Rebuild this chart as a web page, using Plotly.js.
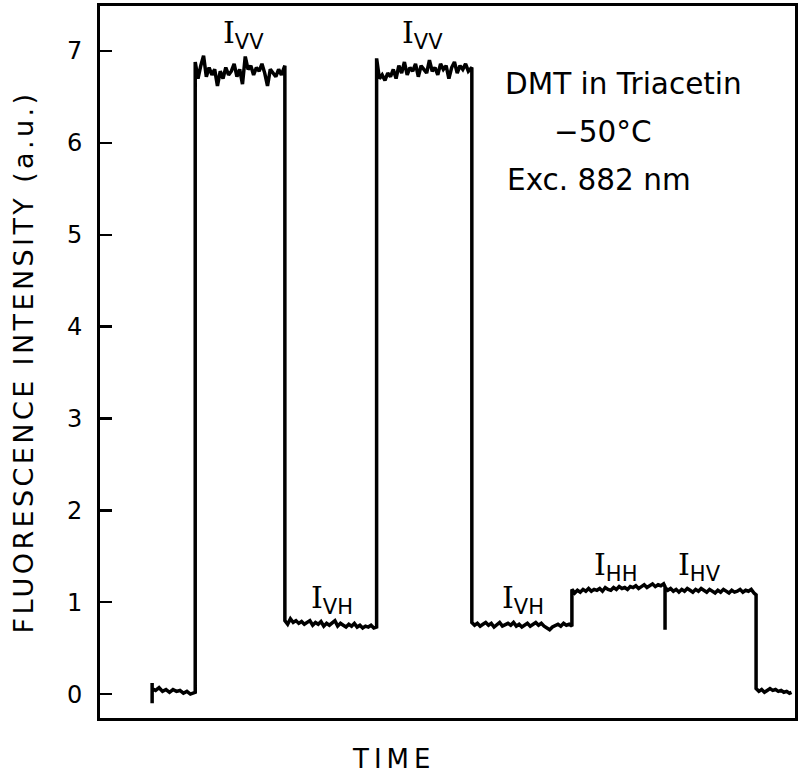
<!DOCTYPE html>
<html>
<head>
<meta charset="utf-8">
<script src="https://cdn.plot.ly/plotly-3.0.1.min.js"></script>
<style>html,body{margin:0;padding:0;background:#fff;}#chart{width:800px;height:776px;}</style>
</head>
<body>
<div id="chart"></div>
<script>
// ---- data (time in arbitrary units, intensity in a.u.) ----
const base1Time = [7.5, 7.5, 7.5, 8.0, 8.5, 9.0, 9.5, 10.0, 10.5, 11.0, 11.5, 12.0, 12.5, 13.0, 13.5, 13.7];
const base1Int  = [-0.10, 0.12, 0.06, 0.04, 0.07, 0.03, 0.05, 0.02, 0.05, 0.03, 0.04, 0.01, 0.03, 0.00, 0.02, 0.02];

const ivv1Time = [13.7, 14.1, 14.5, 14.9, 15.3, 15.7, 16.1, 16.5, 16.9, 17.3, 17.7, 18.1, 18.5, 18.9, 19.3, 19.7, 20.1, 20.5, 20.9, 21.3, 21.7, 22.1, 22.5, 22.9, 23.3, 23.7, 24.1, 24.5, 24.9, 25.3, 25.7, 26.1, 26.6];
const ivv1Int  = [6.88, 6.70, 6.84, 6.95, 6.72, 6.82, 6.74, 6.80, 6.62, 6.78, 6.70, 6.82, 6.74, 6.78, 6.86, 6.72, 6.80, 6.64, 6.94, 6.80, 6.84, 6.74, 6.82, 6.78, 6.86, 6.76, 6.62, 6.80, 6.76, 6.72, 6.80, 6.74, 6.84];

const ivh1Time = [26.6, 27.0, 27.4, 27.8, 28.2, 28.6, 29.0, 29.4, 29.8, 30.2, 30.6, 31.0, 31.4, 31.8, 32.2, 32.6, 33.0, 33.4, 33.8, 34.2, 34.6, 35.0, 35.4, 35.8, 36.2, 36.6, 37.0, 37.4, 37.8, 38.2, 38.6, 39.0, 39.4, 39.8];
const ivh1Int  = [0.80, 0.76, 0.82, 0.78, 0.80, 0.77, 0.79, 0.76, 0.78, 0.80, 0.75, 0.78, 0.76, 0.79, 0.74, 0.77, 0.75, 0.78, 0.80, 0.74, 0.77, 0.75, 0.73, 0.76, 0.74, 0.77, 0.73, 0.75, 0.72, 0.74, 0.73, 0.75, 0.72, 0.73];

const ivv2Time = [39.8, 40.2, 40.6, 41.0, 41.4, 41.8, 42.2, 42.6, 43.0, 43.4, 43.8, 44.2, 44.6, 45.0, 45.4, 45.8, 46.2, 46.6, 47.0, 47.4, 47.8, 48.2, 48.6, 49.0, 49.4, 49.8, 50.2, 50.6, 51.0, 51.4, 51.8, 52.2, 52.6, 53.0, 53.4, 53.5];
const ivv2Int  = [6.92, 6.70, 6.74, 6.68, 6.76, 6.72, 6.80, 6.70, 6.84, 6.76, 6.88, 6.74, 6.82, 6.78, 6.86, 6.72, 6.84, 6.80, 6.76, 6.90, 6.78, 6.82, 6.74, 6.86, 6.80, 6.84, 6.70, 6.82, 6.88, 6.76, 6.84, 6.80, 6.86, 6.78, 6.82, 6.82];

const ivh2Time = [53.5, 53.9, 54.3, 54.7, 55.1, 55.5, 55.9, 56.3, 56.7, 57.1, 57.5, 57.9, 58.3, 58.7, 59.1, 59.5, 59.9, 60.3, 60.7, 61.1, 61.5, 61.9, 62.3, 62.7, 63.1, 63.5, 63.9, 64.3, 64.7, 65.1, 65.5, 65.9, 66.3, 66.7, 67.1, 67.5, 67.9];
const ivh2Int  = [0.78, 0.75, 0.77, 0.74, 0.76, 0.78, 0.75, 0.77, 0.73, 0.76, 0.78, 0.74, 0.76, 0.77, 0.75, 0.78, 0.74, 0.76, 0.73, 0.75, 0.77, 0.74, 0.76, 0.78, 0.75, 0.77, 0.74, 0.72, 0.70, 0.73, 0.75, 0.76, 0.74, 0.77, 0.75, 0.76, 0.74];

const ihhTime = [67.9, 68.3, 68.7, 69.1, 69.5, 69.9, 70.3, 70.7, 71.1, 71.5, 71.9, 72.3, 72.7, 73.1, 73.5, 73.9, 74.3, 74.7, 75.1, 75.5, 75.9, 76.3, 76.7, 77.1, 77.5, 77.9, 78.3, 78.7, 79.1, 79.5, 79.9, 80.3, 80.7, 81.1, 81.3];
const ihhInt  = [1.14, 1.10, 1.13, 1.11, 1.14, 1.12, 1.15, 1.12, 1.14, 1.13, 1.15, 1.12, 1.16, 1.14, 1.13, 1.16, 1.14, 1.17, 1.15, 1.16, 1.14, 1.17, 1.16, 1.18, 1.15, 1.17, 1.19, 1.16, 1.18, 1.20, 1.17, 1.19, 1.18, 1.20, 1.17];

const ihvTime = [81.3, 81.3, 81.7, 82.1, 82.5, 82.9, 83.3, 83.7, 84.1, 84.5, 84.9, 85.3, 85.7, 86.1, 86.5, 86.9, 87.3, 87.7, 88.1, 88.5, 88.9, 89.3, 89.7, 90.1, 90.5, 90.9, 91.3, 91.7, 92.1, 92.5, 92.9, 93.3, 93.7, 94.1, 94.4];
const ihvInt  = [0.70, 1.16, 1.13, 1.15, 1.12, 1.14, 1.11, 1.14, 1.12, 1.15, 1.13, 1.11, 1.14, 1.12, 1.15, 1.13, 1.11, 1.14, 1.12, 1.10, 1.13, 1.11, 1.14, 1.12, 1.10, 1.13, 1.11, 1.12, 1.14, 1.11, 1.13, 1.12, 1.14, 1.10, 1.08];

const base2Time = [94.4, 94.8, 95.2, 95.6, 96.0, 96.4, 96.8, 97.2, 97.6, 98.0, 98.4, 98.8, 99.2, 99.5];
const base2Int  = [0.06, 0.03, 0.05, 0.02, 0.04, 0.06, 0.04, 0.05, 0.03, 0.04, 0.02, 0.03, 0.01, 0.02];

const yTickVals = [0, 1, 2, 3, 4, 5, 6, 7];
const yTickText = ['0', '1', '2', '3', '4', '5', '6', '7'];

const segLabels = [
  {t: 20.6, v: 7.18, sub: 'VV'},
  {t: 46.4, v: 7.18, sub: 'VV'},
  {t: 33.4, v: 1.03, sub: 'VH'},
  {t: 60.9, v: 1.03, sub: 'VH'},
  {t: 74.1, v: 1.39, sub: 'HH'},
  {t: 86.2, v: 1.39, sub: 'HV'}
];
const infoLines = ['DMT in Triacetin', '\u221250\u00b0C', 'Exc. 882 nm'];

// ---- build trace ----
const timeAll = [].concat(base1Time, ivv1Time, ivh1Time, ivv2Time, ivh2Time, ihhTime, ihvTime, base2Time);
const intAll  = [].concat(base1Int, ivv1Int, ivh1Int, ivv2Int, ivh2Int, ihhInt, ihvInt, base2Int);

const FONT = 'DejaVu Sans, Liberation Sans, sans-serif';

const trace = {
  x: timeAll, y: intAll, type: 'scatter', mode: 'lines',
  line: {color: '#000', width: 3.5}, hoverinfo: 'skip'
};

const annotations = segLabels.map(s => ({
  x: s.t, y: s.v, xref: 'x', yref: 'y', showarrow: false,
  text: '<span style="font-family:DejaVu Serif">I</span><sub>' + s.sub + '</sub>',
  font: {family: FONT, size: 30, color: '#000'}
}));

const infoPos = [{x: 503, y: 84}, {x: 552, y: 132}, {x: 505, y: 180}];
infoLines.forEach((txt, i) => {
  annotations.push({
    x: (infoPos[i].x - 100) / 695, y: 1 - (infoPos[i].y - 6) / 712,
    xref: 'paper', yref: 'paper', xanchor: 'left', yanchor: 'middle',
    showarrow: false, text: txt,
    font: {family: FONT, size: 29.5, color: '#000'}
  });
});
annotations.push({
  x: (393 - 100) / 695, y: 1 - (759 - 6) / 712, xref: 'paper', yref: 'paper',
  xanchor: 'center', yanchor: 'middle', showarrow: false,
  text: '<span style="letter-spacing:5px">TIME</span>',
  font: {family: FONT, size: 26, color: '#000'}
});

const layout = {
  width: 800, height: 776,
  margin: {l: 100, r: 5, t: 6, b: 58},
  paper_bgcolor: '#fff', plot_bgcolor: '#fff',
  showlegend: false,
  xaxis: {
    range: [0, 100], showgrid: false, zeroline: false,
    showticklabels: false, ticks: '',
    showline: true, mirror: true, linecolor: '#000', linewidth: 3
  },
  yaxis: {
    range: [-0.26, 7.49], showgrid: false, zeroline: false,
    tickvals: yTickVals, ticktext: yTickText,
    ticks: 'inside', ticklen: 12, tickwidth: 2.5, tickcolor: '#000',
    ticklabelstandoff: 10,
    tickfont: {family: FONT, size: 24, color: '#000'},
    showline: true, mirror: true, linecolor: '#000', linewidth: 3,
    title: {text: '<span style="letter-spacing:3.4px">FLUORESCENCE INTENSITY (a.u.)</span>', standoff: 26,
            font: {family: FONT, size: 27, color: '#000'}}
  },
  annotations: annotations
};

Plotly.newPlot('chart', [trace], layout, {displayModeBar: false, staticPlot: true});
</script>
</body>
</html>
